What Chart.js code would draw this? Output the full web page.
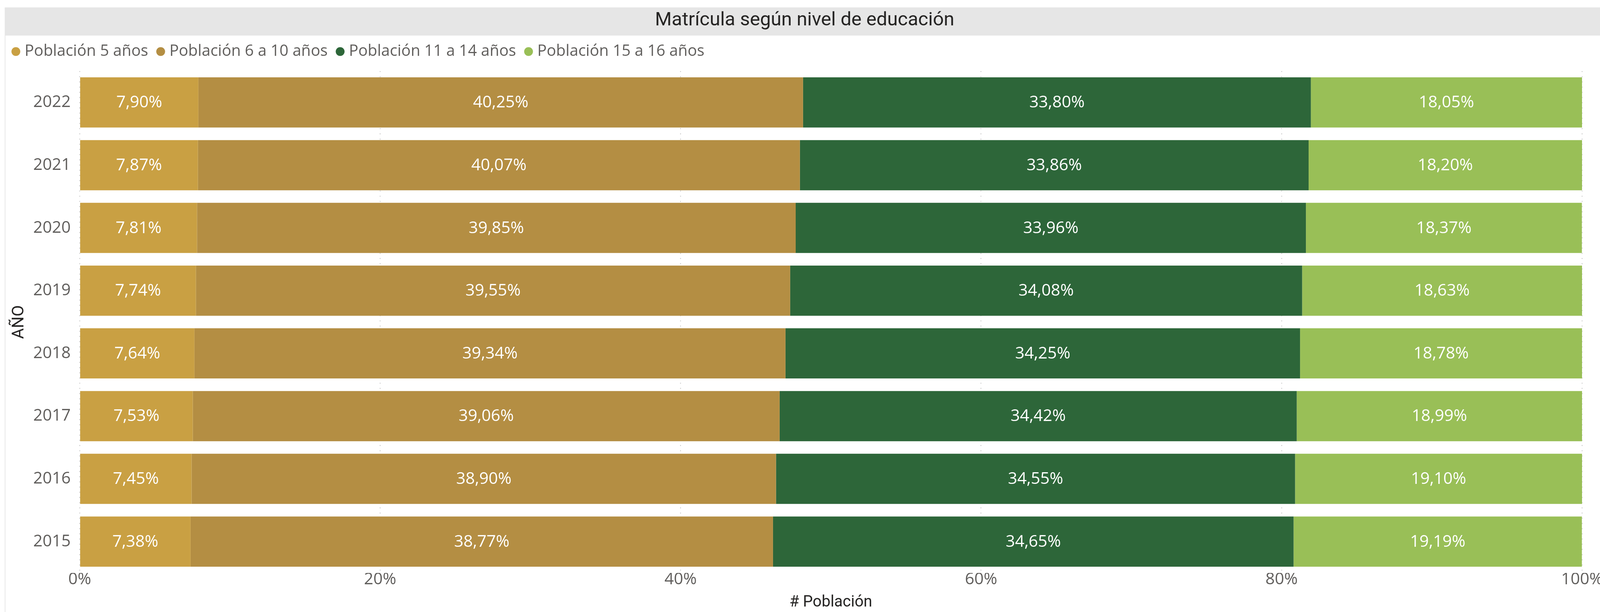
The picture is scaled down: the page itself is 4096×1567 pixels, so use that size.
<!DOCTYPE html>
<html>
<head>
<meta charset="utf-8">
<script src="https://cdn.jsdelivr.net/npm/chart.js@4.4.1/dist/chart.umd.min.js"></script>
<style>
  html, body { margin: 0; padding: 0; background: #ffffff; }
  #myChart { display: block; }
</style>
</head>
<body>
<canvas id="myChart" width="4096" height="1567"></canvas>
<script>
// datos
let years = ['2022', '2021', '2020', '2019', '2018', '2017', '2016', '2015'];
let pob5 = [7.90, 7.87, 7.81, 7.74, 7.64, 7.53, 7.45, 7.38];
let pob6a10 = [40.25, 40.07, 39.85, 39.55, 39.34, 39.06, 38.90, 38.77];
let pob11a14 = [33.80, 33.86, 33.96, 34.08, 34.25, 34.42, 34.55, 34.65];
let pob15a16 = [18.05, 18.20, 18.37, 18.63, 18.78, 18.99, 19.10, 19.19];
let xTicks = [0, 20, 40, 60, 80, 100];

var titleText = 'Matrícula según nivel de educación';
var baseFont = '"Open Sans", "Noto Sans", sans-serif';
var dinFont = 'Roboto, "DejaVu Sans", sans-serif';

var chartCanvas = document.getElementById('myChart');
var ctx = chartCanvas.getContext('2d');

function fmt(v) {
    return v.toFixed(2).replace('.', ',') + '%';
}

// banda del titulo, titulo y leyenda
var headerPlugin = {
    id: 'header',
    beforeDraw(chart) {
        let c = chart.ctx;
        c.save();
        c.fillStyle = '#ffffff';
        c.fillRect(0, 0, chart.width, chart.height);
        c.fillStyle = '#e6e6e6';
        c.fillRect(13, 19, chart.width - 13, 72);
        c.fillStyle = '#e8e8e8';
        c.fillRect(12, 19, 2, chart.height - 19);
        c.restore();
    },
    afterDraw(chart) {
        let c = chart.ctx;
        c.save();
        c.fillStyle = '#252423';
        c.font = '49px ' + dinFont;
        c.textAlign = 'center';
        c.textBaseline = 'middle';
        c.fillText(titleText, 2060, 53);

        c.font = '40px ' + baseFont;
        c.textAlign = 'left';
        let x = 29.3;
        let y = 132;
        chart.data.datasets.forEach(ds => {
            c.fillStyle = ds.backgroundColor;
            c.beginPath();
            c.arc(x + 11.3, y, 11.3, 0, Math.PI * 2);
            c.fill();
            c.fillStyle = '#605e5c';
            c.fillText(ds.label, x + 33.7, y);
            x = x + 33.7 + c.measureText(ds.label).width + 20.7;
        });
        c.restore();
    }
};

// etiquetas dentro de las barras
var labelPlugin = {
    id: 'barLabels',
    afterDatasetsDraw(chart) {
        let c = chart.ctx;
        c.save();
        c.fillStyle = '#ffffff';
        c.font = '42px ' + baseFont;
        c.textAlign = 'center';
        c.textBaseline = 'middle';
        chart.data.datasets.forEach((ds, i) => {
            let meta = chart.getDatasetMeta(i);
            meta.data.forEach((bar, j) => {
                let cx = (bar.x + bar.base) / 2;
                c.fillText(fmt(ds.data[j]), cx, bar.y + 1);
            });
        });
        c.restore();
    }
};

var myChart = new Chart(ctx, {
    type: 'bar',
    data: {
        labels: years,
        datasets: [{
            label: 'Población 5 años',
            backgroundColor: '#c9a043',
            data: pob5,
        },
        {
            label: 'Población 6 a 10 años',
            backgroundColor: '#b48e43',
            data: pob6a10,
        },
        {
            label: 'Población 11 a 14 años',
            backgroundColor: '#2d6639',
            data: pob11a14,
        },
        {
            label: 'Población 15 a 16 años',
            backgroundColor: '#99bf57',
            data: pob15a16,
        }
        ]
    },
    options: {
        indexAxis: 'y',
        responsive: false,
        animation: false,
        devicePixelRatio: 1,
        layout: { padding: { top: 182, left: 0, right: 46, bottom: 0 } },
        datasets: { bar: { barPercentage: 0.8, categoryPercentage: 1.0, borderWidth: 0 } },
        plugins: {
            legend: { display: false },
            title: { display: false },
            tooltip: { enabled: false }
        },
        scales: {
            x: {
                stacked: true,
                min: 0,
                max: 100,
                afterBuildTicks(scale) {
                    scale.ticks = xTicks.map(v => ({ value: v }));
                },
                afterFit(scale) {
                    scale.height = 100;
                    scale.paddingLeft = 0;
                    scale.paddingRight = 0;
                },
                ticks: {
                    color: '#605e5c',
                    font: { family: baseFont, size: 42 },
                    padding: -8,
                    callback: v => v + '%'
                },
                grid: {
                    color: '#c8c8c8',
                    lineWidth: 2.3,
                    drawTicks: false
                },
                border: { display: false, dash: [2.3, 11] },
                title: {
                    display: true,
                    text: '# Población',
                    color: '#252423',
                    font: { family: dinFont, size: 40 },
                    padding: { top: 0, bottom: 0 }
                }
            },
            y: {
                stacked: true,
                afterFit(scale) {
                    scale.width = 204;
                },
                ticks: {
                    color: '#605e5c',
                    font: { family: baseFont, size: 42 },
                    padding: 23
                },
                grid: { display: false, drawTicks: false },
                border: { display: false },
                title: {
                    display: true,
                    text: 'AÑO',
                    color: '#252423',
                    font: { family: dinFont, size: 42 },
                    padding: { top: 24, bottom: 0 }
                }
            }
        }
    },
    plugins: [headerPlugin, labelPlugin]
});
</script>
</body>
</html>
